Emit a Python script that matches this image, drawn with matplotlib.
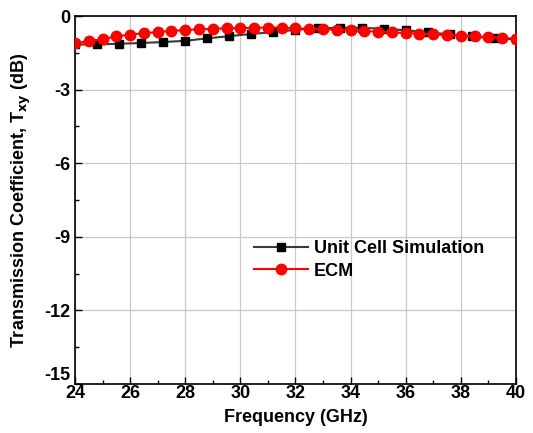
import numpy as np
import matplotlib.pyplot as plt
from matplotlib.ticker import MultipleLocator

# ---- Data ----
freq_sim = [24.0, 24.8, 25.6, 26.4, 27.2, 28.0, 28.8, 29.6, 30.4, 31.2, 32.0,
            32.8, 33.6, 34.4, 35.2, 36.0, 36.8, 37.6, 38.4, 39.2, 40.0]
txy_sim = [-1.16, -1.16, -1.13, -1.10, -1.06, -1.01, -0.91, -0.82, -0.73, -0.66, -0.56,
           -0.50, -0.48, -0.48, -0.52, -0.58, -0.66, -0.75, -0.83, -0.91, -0.95]

freq_ecm = [24.0, 24.5, 25.0, 25.5, 26.0, 26.5, 27.0, 27.5, 28.0, 28.5, 29.0,
            29.5, 30.0, 30.5, 31.0, 31.5, 32.0, 32.5, 33.0, 33.5, 34.0, 34.5,
            35.0, 35.5, 36.0, 36.5, 37.0, 37.5, 38.0, 38.5, 39.0, 39.5, 40.0]
txy_ecm = [-1.11, -1.02, -0.94, -0.83, -0.76, -0.70, -0.65, -0.61, -0.57, -0.54, -0.52,
           -0.50, -0.49, -0.48, -0.47, -0.47, -0.50, -0.52, -0.54, -0.56, -0.58, -0.61,
           -0.64, -0.67, -0.69, -0.72, -0.75, -0.78, -0.80, -0.83, -0.86, -0.89, -0.93]

plt.rcParams['font.family'] = ['Liberation Sans', 'DejaVu Sans']
plt.rcParams['font.weight'] = 'bold'
plt.rcParams['axes.unicode_minus'] = False

fig = plt.figure(figsize=(5.33, 4.33), dpi=100)
ax = fig.add_axes([0.1407, 0.1132, 0.8273, 0.8498])

ax.plot(freq_sim, txy_sim, color='#3a3a3a', lw=1.5, marker='s', ms=6,
        mfc='black', mec='black', label='Unit Cell Simulation', zorder=3)
ax.plot(freq_ecm, txy_ecm, color='red', lw=1.5, marker='o', ms=7.5,
        mfc='red', mec='red', label='ECM', zorder=4)

ax.set_xlim(24, 40)
ax.set_ylim(-15, 0)
ax.xaxis.set_major_locator(MultipleLocator(2))
ax.xaxis.set_minor_locator(MultipleLocator(1))
ax.yaxis.set_major_locator(MultipleLocator(3))
ax.yaxis.set_minor_locator(MultipleLocator(1.5))
ax.tick_params(which='both', direction='in', labelsize=13, width=1)
ax.tick_params(which='major', length=5)
ax.tick_params(which='minor', length=3)
ax.tick_params(axis='x', pad=1)
ax.grid(True, which='major', color='#c8c8c8', lw=0.9)
ax.set_axisbelow(True)
for s in ax.spines.values():
    s.set_linewidth(1.2)

ax.set_xlabel('Frequency (GHz)', fontsize=13, fontweight='bold', labelpad=5)
ax.set_ylabel(r'Transmission Coefficient, T$_{\mathbf{xy}}$ (dB)', fontsize=13,
              fontweight='bold', labelpad=8)

ax.legend(loc='upper left', bbox_to_anchor=(0.39, 0.41), frameon=False,
          fontsize=13, handlelength=3.0, handletextpad=0.3, labelspacing=0.3,
          borderaxespad=0)

# lift the bottom y label (-15) so it clears the first x label, as in the original
fig.canvas.draw()
for lbl in ax.get_yticklabels():
    if lbl.get_text() == '-15':
        lbl.set_verticalalignment('bottom')

fig.savefig('out.png', dpi=100)
